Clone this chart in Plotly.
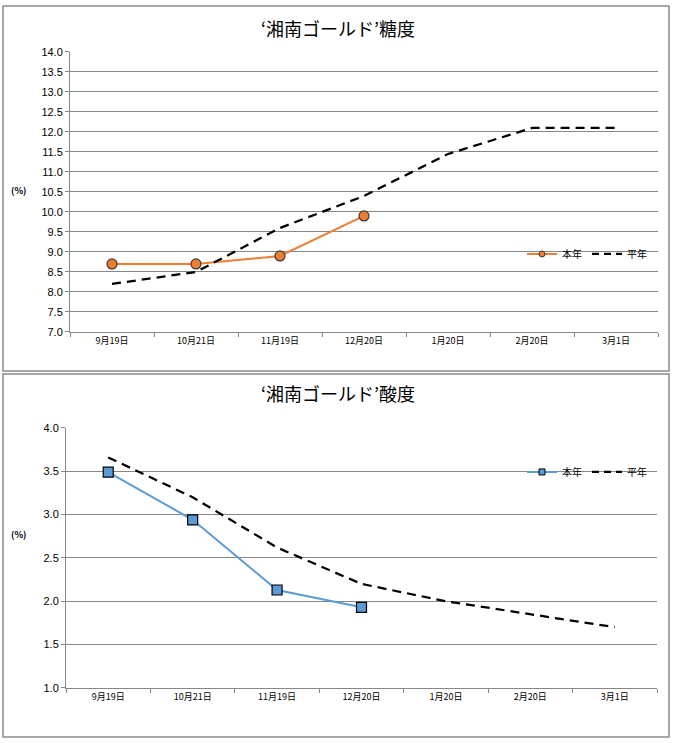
import plotly.graph_objects as go

dates = ["9月19日", "10月21日", "11月19日", "12月20日", "1月20日", "2月20日", "3月1日"]

sugar_this = [8.7, 8.7, 8.9, 9.9]
sugar_avg = [8.2, 8.5, 9.6, 10.4, 11.45, 12.1, 12.1]

acid_this = [3.49, 2.94, 2.13, 1.93]
acid_avg = [3.66, 3.2, 2.62, 2.2, 2.0, 1.85, 1.7]

W, H = 676, 743
JP = "Noto Sans CJK JP"
GRID = "#878787"


def px_x(p):
    return p / W


def px_y(p):
    # 画面上の位置 p に合わせる（撮影時の縦方向のずれを補正）
    y = (p - 5) / 0.984
    return max(0.0, min(1.0, 1 - y / H))


fig = go.Figure()

series = [
    ("x", "y", "legend", sugar_this, sugar_avg, "#ED7D31", "circle", "#3a3a3a"),
    ("x2", "y2", "legend2", acid_this, acid_avg, "#5B9BD5", "square", "black"),
]
for xa, ya, lg, this_year, avg, clr, sym, edge in series:
    fig.add_trace(go.Scatter(
        x=dates[:len(this_year)], y=this_year, mode="lines+markers", showlegend=False,
        line=dict(color=clr, width=2),
        marker=dict(symbol=sym, size=10, color=clr, line=dict(color=edge, width=1.2)),
        xaxis=xa, yaxis=ya
    ))
    fig.add_trace(go.Scatter(
        x=dates, y=avg, mode="lines", showlegend=False,
        line=dict(color="black", width=2.25, dash="9px,6px"),
        xaxis=xa, yaxis=ya
    ))
    # 凡例用
    fig.add_trace(go.Scatter(
        x=[None], y=[None], name="本年", mode="lines+markers",
        line=dict(color=clr, width=2),
        marker=dict(symbol=sym, size=6, color=clr, line=dict(color=edge, width=1)),
        xaxis=xa, yaxis=ya, legend=lg
    ))
    fig.add_trace(go.Scatter(
        x=[None], y=[None], name="平年", mode="lines",
        line=dict(color="black", width=2.25, dash="7px,5px"),
        xaxis=xa, yaxis=ya, legend=lg
    ))

xax = dict(
    type="category", categoryorder="array", categoryarray=dates, range=[-0.5, 6.5],
    tickson="boundaries", ticks="outside", ticklen=4, tickcolor=GRID,
    showline=True, linecolor=GRID, linewidth=1, showgrid=False,
    tickfont=dict(family=JP, size=9, color="black"), fixedrange=True,
)
yax = dict(
    ticks="outside", ticklen=4, tickcolor=GRID, showline=True, linecolor=GRID,
    linewidth=1, showgrid=True, gridcolor=GRID, gridwidth=1, zeroline=False,
    tickfont=dict(family="Liberation Sans", size=11, color="black"), tickformat=".1f",
)

leg = dict(orientation="h", xanchor="right", yanchor="middle",
           bgcolor="rgba(0,0,0,0)", font=dict(family=JP, size=10, color="black"),
           itemwidth=30, tracegroupgap=0)

fig.update_layout(
    width=W, height=H,
    margin=dict(l=0, r=0, t=0, b=0),
    paper_bgcolor="white", plot_bgcolor="white",
    showlegend=True,
    xaxis=dict(xax, domain=[px_x(70), px_x(658)], anchor="y"),
    yaxis=dict(yax, domain=[px_y(331), px_y(51)], range=[7, 14], dtick=0.5, anchor="x"),
    xaxis2=dict(xax, domain=[px_x(66), px_x(657)], anchor="y2"),
    yaxis2=dict(yax, domain=[px_y(687), px_y(427)], range=[1, 4], dtick=0.5, anchor="x2"),
    legend=dict(leg, x=px_x(652), y=px_y(253)),
    legend2=dict(leg, x=px_x(652), y=px_y(471)),
)

# 外枠
for y0, y1 in [(5, 370), (373, 740)]:
    fig.add_shape(type="rect", xref="paper", yref="paper",
                  x0=px_x(3), x1=px_x(669), y0=px_y(y1), y1=px_y(y0),
                  line=dict(color="#8a8a8a", width=1.5))

titles = [("‘湘南ゴールド’糖度", 27), ("‘湘南ゴールド’酸度", 392)]
for txt, yy in titles:
    fig.add_annotation(text=txt, xref="paper", yref="paper", x=px_x(338), y=px_y(yy),
                       showarrow=False, xanchor="center", yanchor="middle",
                       font=dict(family=JP, size=18, color="black"))

for yy, xx in [(190, 18), (534, 18)]:
    fig.add_annotation(text="<b>(%)</b>", xref="paper", yref="paper", x=px_x(xx), y=px_y(yy),
                       showarrow=False, xanchor="center", yanchor="middle",
                       font=dict(family=JP, size=9, color="black"))

fig.write_html(
    "out.html",
    config={"displayModeBar": False},
    post_script="document.body.style.margin='0';document.documentElement.style.overflow='hidden';",
)
